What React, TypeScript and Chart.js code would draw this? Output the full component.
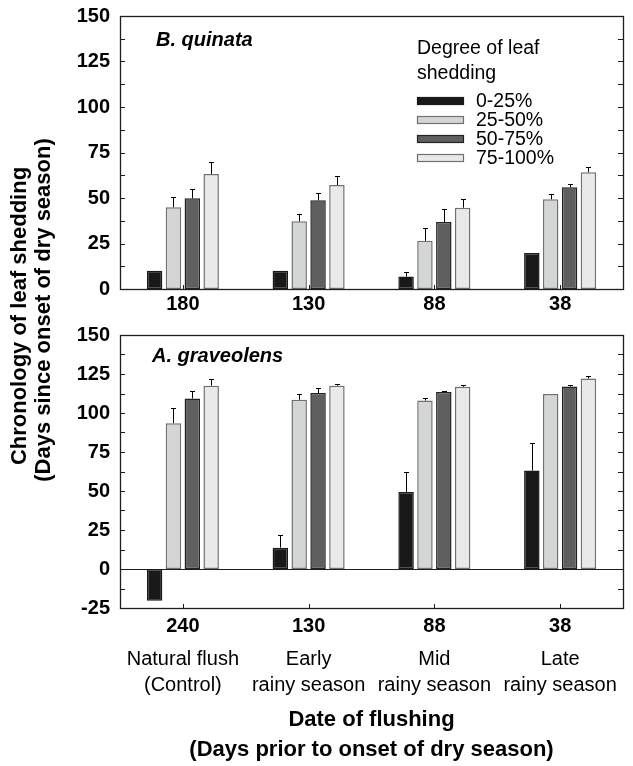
import React, { useEffect, useRef } from "react";
import { Chart, registerables } from "chart.js";

Chart.register(...registerables);

const FONT = "'Liberation Sans', Arial, Helvetica, sans-serif";

// ---------- data ----------
const topCategories = ["180", "130", "88", "38"];
const bottomCategories = ["240", "130", "88", "38"];
const groupLine1 = ["Natural flush", "Early", "Mid", "Late"];
const groupLine2 = ["(Control)", "rainy season", "rainy season", "rainy season"];
const seriesNames = ["0-25%", "25-50%", "50-75%", "75-100%"];

// B. quinata
const quinata0 = [10, 10, 6.8, 19.8];
const quinata0Err = [null, null, 9.5, null];
const quinata1 = [44.9, 37.2, 26.5, 49.3];
const quinata1Err = [50.4, 41, 33.3, 52.4];
const quinata2 = [49.8, 48.7, 36.8, 55.9];
const quinata2Err = [54.8, 52.5, 44, 57.9];
const quinata3 = [63.2, 57.1, 44.7, 64.1];
const quinata3Err = [69.8, 62, 49.6, 66.8];

// A. graveolens
const graveolens0 = [-20.3, 13.7, 49.4, 63.1];
const graveolens0Err = [null, 22, 62, 81];
const graveolens1 = [93.5, 108.5, 108, 112.1];
const graveolens1Err = [103.1, 112.5, 109.6, null];
const graveolens2 = [109.3, 112.8, 113.4, 117];
const graveolens2Err = [113.8, 116, 114, 117.7];
const graveolens3 = [117.5, 117.5, 116.8, 122.1];
const graveolens3Err = [121.7, 118.5, 117.7, 123.4];

const topYTicks = { min: 0, max: 150, step: 25, minor: 12.5 };
const bottomYTicks = { min: -25, max: 150, step: 25, minor: 12.5 };

// ---------- styles ----------
const seriesFill = ["#191919", "#d4d6d6", "#5f5f5f", "#e9e9e9"];
const seriesBorder = ["#191919", "#707070", "#222222", "#707070"];

type ErrArr = (number | null)[];

function buildDatasets(values: number[][]) {
  return values.map((v, i) => ({
    label: seriesNames[i],
    data: v,
    backgroundColor: seriesFill[i],
    borderColor: seriesBorder[i],
    borderWidth: 1.5,
    borderSkipped: false as const,
    categoryPercentage: 0.6,
    barPercentage: 0.82,
  }));
}

function panelPlugin(cfg: {
  errs: ErrArr[];
  title: string;
  titleX: number;
  titleY: number;
  legend?: boolean;
  descriptors?: boolean;
  zeroLine?: boolean;
  minor: number;
}) {
  return {
    id: "panelDecor",
    afterDatasetsDraw(chart: any) {
      const ctx = chart.ctx as CanvasRenderingContext2D;
      const y = chart.scales.y;
      ctx.save();
      ctx.strokeStyle = "#000";
      ctx.lineWidth = 1;
      cfg.errs.forEach((errArr, di) => {
        const meta = chart.getDatasetMeta(di);
        meta.data.forEach((el: any, j: number) => {
          const e = errArr[j];
          if (e == null) return;
          const ey = Math.round(y.getPixelForValue(e)) + 0.5;
          const x = Math.round(el.x) + 0.5;
          ctx.beginPath();
          ctx.moveTo(x, el.y);
          ctx.lineTo(x, ey);
          ctx.moveTo(x - 2.5, ey);
          ctx.lineTo(x + 2.5, ey);
          ctx.stroke();
        });
      });
      ctx.restore();
    },
    afterDraw(chart: any) {
      const ctx = chart.ctx as CanvasRenderingContext2D;
      const { left, right, top, bottom } = chart.chartArea;
      const y = chart.scales.y;
      const x = chart.scales.x;
      ctx.save();
      ctx.strokeStyle = "#1e1e1e";
      ctx.lineWidth = 1.3;
      ctx.strokeRect(Math.round(left) + 0.5, Math.round(top) + 0.5, Math.round(right - left), Math.round(bottom - top));
      ctx.lineWidth = 1;
      // minor/major ticks inward on both sides
      for (let v = y.min; v <= y.max + 1e-6; v += cfg.minor) {
        const py = Math.round(y.getPixelForValue(v)) + 0.5;
        ctx.beginPath();
        ctx.moveTo(left, py);
        ctx.lineTo(left + 5, py);
        ctx.moveTo(right, py);
        ctx.lineTo(right - 5, py);
        ctx.stroke();
      }
      // bottom ticks at category centers
      for (let i = 0; i < x.ticks.length; i++) {
        const px = Math.round(x.getPixelForTick(i)) + 0.5;
        ctx.beginPath();
        ctx.moveTo(px, bottom);
        ctx.lineTo(px, bottom - 4);
        ctx.stroke();
      }
      if (cfg.zeroLine) {
        const py = Math.round(y.getPixelForValue(0)) + 0.5;
        ctx.beginPath();
        ctx.moveTo(left, py);
        ctx.lineTo(right, py);
        ctx.stroke();
      }
      // panel title
      ctx.fillStyle = "#000";
      ctx.font = `italic bold 20px ${FONT}`;
      ctx.textBaseline = "middle";
      ctx.textAlign = "left";
      ctx.fillText(cfg.title, cfg.titleX, cfg.titleY);

      if (cfg.legend) {
        ctx.font = `19.5px ${FONT}`;
        ctx.fillText("Degree of leaf", 417, 49);
        ctx.fillText("shedding", 417, 74);
        seriesNames.forEach((name, i) => {
          const cy = 101 + i * 19;
          ctx.fillStyle = seriesFill[i];
          ctx.fillRect(417, cy - 3.5, 47, 7);
          ctx.strokeStyle = seriesBorder[i];
          ctx.lineWidth = 1.2;
          ctx.strokeRect(417.5, cy - 3.5, 46, 7);
          ctx.fillStyle = "#000";
          ctx.fillText(name, 476, cy + 1);
        });
      }
      if (cfg.descriptors) {
        ctx.font = `20px ${FONT}`;
        ctx.textAlign = "center";
        ctx.fillStyle = "#000";
        for (let i = 0; i < x.ticks.length; i++) {
          const px = x.getPixelForTick(i);
          ctx.fillText(groupLine1[i], px, bottom + 51);
          ctx.fillText(groupLine2[i], px, bottom + 77);
        }
      }
      ctx.restore();
    },
  };
}

function makeOptions(ticks: { min: number; max: number; step: number }, xHeight: number, xPad: number, topPad: number, withTitle: boolean) {
  return {
    responsive: false,
    maintainAspectRatio: false,
    devicePixelRatio: 1,
    animation: false as const,
    layout: { padding: { left: 0, right: 10, top: topPad, bottom: 0 } },
    plugins: { legend: { display: false }, tooltip: { enabled: false } },
    scales: {
      x: {
        type: "category" as const,
        grid: { display: false, drawTicks: false },
        border: { display: false },
        ticks: { color: "#000", font: { family: FONT, size: 20, weight: "bold" as const }, padding: xPad, maxRotation: 0 },
        title: withTitle
          ? {
              display: true,
              text: ["Date of flushing", "(Days prior to onset of dry season)"],
              color: "#000",
              font: { family: FONT, size: 22, weight: "bold" as const, lineHeight: 30 / 22 },
              padding: { top: 0, bottom: 1 },
            }
          : { display: false },
        afterFit: (s: any) => {
          s.height = xHeight;
          s.paddingLeft = 0;
          s.paddingRight = 0;
        },
      },
      y: {
        min: ticks.min,
        max: ticks.max,
        grid: { display: false, drawTicks: false },
        border: { display: false },
        ticks: { stepSize: ticks.step, color: "#000", font: { family: FONT, size: 20, weight: "bold" as const }, padding: 10 },
        afterFit: (s: any) => {
          s.width = 120;
          s.paddingTop = 0;
          s.paddingBottom = 0;
        },
      },
    },
  };
}

export default function App() {
  const topRef = useRef<HTMLCanvasElement>(null);
  const botRef = useRef<HTMLCanvasElement>(null);

  useEffect(() => {
    document.body.style.margin = "0";
    const c1 = new Chart(topRef.current!, {
      type: "bar",
      data: {
        labels: topCategories,
        datasets: buildDatasets([quinata0, quinata1, quinata2, quinata3]),
      },
      options: makeOptions(topYTicks, 29, 3, 16, false) as any,
      plugins: [
        panelPlugin({
          errs: [quinata0Err, quinata1Err, quinata2Err, quinata3Err],
          title: "B. quinata",
          titleX: 156,
          titleY: 40,
          legend: true,
          minor: topYTicks.minor,
        }) as any,
      ],
    });
    const c2 = new Chart(botRef.current!, {
      type: "bar",
      data: {
        labels: bottomCategories,
        datasets: buildDatasets([graveolens0, graveolens1, graveolens2, graveolens3]),
      },
      options: makeOptions(bottomYTicks, 158, 6, 17, true) as any,
      plugins: [
        panelPlugin({
          errs: [graveolens0Err, graveolens1Err, graveolens2Err, graveolens3Err],
          title: "A. graveolens",
          titleX: 152,
          titleY: 38,
          descriptors: true,
          zeroLine: true,
          minor: bottomYTicks.minor,
        }) as any,
      ],
    });
    return () => {
      c1.destroy();
      c2.destroy();
    };
  }, []);

  const yTitle: React.CSSProperties = {
    position: "absolute",
    transform: "translate(-50%, -50%) rotate(-90deg)",
    whiteSpace: "nowrap",
    fontFamily: FONT,
    fontWeight: "bold",
    fontSize: 22,
    color: "#000",
    lineHeight: 1,
  };

  return (
    <div style={{ position: "fixed", left: 0, top: 0, width: 633, height: 766, background: "#fff", overflow: "hidden" }}>
      <canvas ref={topRef} width={633} height={318} style={{ position: "absolute", left: 0, top: 0, width: 633, height: 318 }} />
      <canvas ref={botRef} width={633} height={448} style={{ position: "absolute", left: 0, top: 318, width: 633, height: 448 }} />
      <div style={{ ...yTitle, left: 19, top: 316 }}>Chronology of leaf shedding</div>
      <div style={{ ...yTitle, left: 43, top: 310 }}>(Days since onset of dry season)</div>
    </div>
  );
}
